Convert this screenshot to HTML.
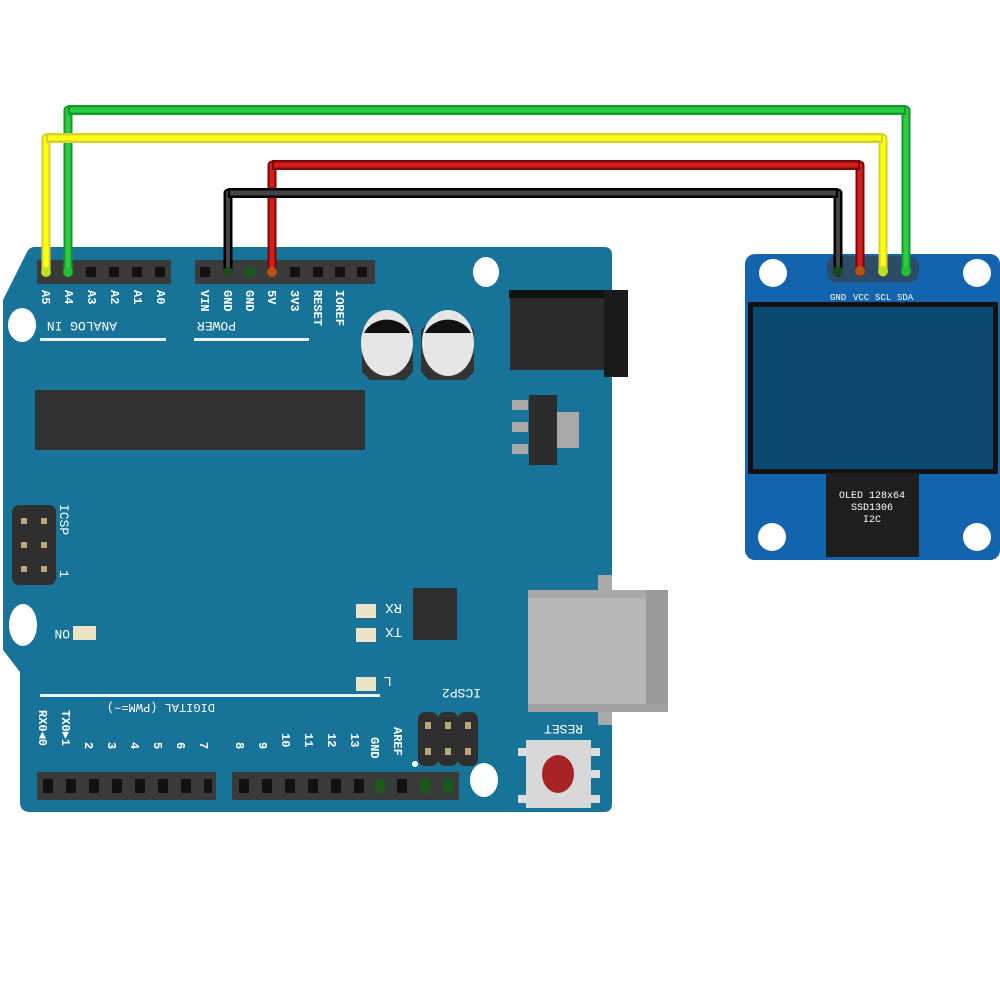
<!DOCTYPE html>
<html><head><meta charset="utf-8"><style>
html,body{margin:0;padding:0;background:#fff;}
svg{display:block;}
text{font-family:"Liberation Mono","DejaVu Sans Mono",monospace;fill:#fff;}
</style></head><body>
<svg width="1000" height="1000" viewBox="0 0 1000 1000" xmlns="http://www.w3.org/2000/svg">
<rect width="1000" height="1000" fill="#fff"/>
<path d="M34,247 L604,247 Q612,247 612,255 L612,804 Q612,812 604,812 L30,812 Q20,812 20,802 L20,672 L3,650 L3,300 L26,254 Q29,247 34,247 Z" fill="#187398"/>
<ellipse cx="486" cy="272" rx="13" ry="15" fill="#fff"/>
<ellipse cx="22" cy="325" rx="14" ry="17" fill="#fff"/>
<ellipse cx="23" cy="625" rx="14" ry="21" fill="#fff"/>
<ellipse cx="484" cy="780" rx="14" ry="17" fill="#fff"/>
<rect x="37" y="260" width="134" height="24" fill="#3a3a3a"/>
<g fill="#111">
<rect x="86" y="267" width="10" height="10"/><rect x="109" y="267" width="10" height="10"/>
<rect x="132" y="267" width="10" height="10"/><rect x="155" y="267" width="10" height="10"/>
</g>
<rect x="195" y="260" width="180" height="24" fill="#3a3a3a"/>
<g fill="#111">
<rect x="200" y="267" width="10" height="10"/><rect x="290" y="267" width="10" height="10"/>
<rect x="313" y="267" width="10" height="10"/><rect x="335" y="267" width="10" height="10"/><rect x="357" y="267" width="10" height="10"/>
</g>
<rect x="245" y="267" width="10" height="10" fill="#1c5a1c"/>
<g font-size="12" font-weight="bold">
<text transform="translate(42,290) rotate(90)">A5</text>
<text transform="translate(65,290) rotate(90)">A4</text>
<text transform="translate(88,290) rotate(90)">A3</text>
<text transform="translate(111,290) rotate(90)">A2</text>
<text transform="translate(134,290) rotate(90)">A1</text>
<text transform="translate(157,290) rotate(90)">A0</text>
<text transform="translate(201,290) rotate(90)">VIN</text>
<text transform="translate(224,290) rotate(90)">GND</text>
<text transform="translate(246,290) rotate(90)">GND</text>
<text transform="translate(268,290) rotate(90)">5V</text>
<text transform="translate(291,290) rotate(90)">3V3</text>
<text transform="translate(314,290) rotate(90)">RESET</text>
<text transform="translate(336,290) rotate(90)">IOREF</text>
</g>
<text font-size="13" transform="translate(117,322) rotate(180)">ANALOG IN</text>
<text font-size="13" transform="translate(236,322) rotate(180)">POWER</text>
<rect x="40" y="338" width="126" height="3" fill="#e8f4f8"/>
<rect x="194" y="338" width="115" height="3" fill="#e8f4f8"/>
<g>
<path d="M362,330 L370,322 L405,322 L413,330 L413,372 L405,380 L370,380 L362,372 Z" fill="#333"/>
<ellipse cx="387" cy="343" rx="26" ry="33" fill="#e6e6e6"/>
<path d="M364,333 A25,22 0 0 1 410,333 Z" fill="#111"/>
<path d="M421,330 L429,322 L466,322 L474,330 L474,372 L466,380 L429,380 L421,372 Z" fill="#333"/>
<ellipse cx="448" cy="343" rx="26" ry="33" fill="#e6e6e6"/>
<path d="M425,333 A25,22 0 0 1 471,333 Z" fill="#111"/>
</g>
<rect x="510" y="296" width="100" height="74" fill="#2b2b2b"/>
<rect x="509" y="290" width="100" height="8" fill="#111"/>
<rect x="604" y="290" width="24" height="87" fill="#1a1a1a"/>
<rect x="35" y="390" width="330" height="60" fill="#323232"/>
<rect x="512" y="400" width="16" height="10" fill="#a9a9a9"/>
<rect x="512" y="422" width="16" height="10" fill="#a9a9a9"/>
<rect x="512" y="444" width="16" height="10" fill="#a9a9a9"/>
<rect x="557" y="412" width="22" height="36" fill="#a9a9a9"/>
<rect x="529" y="395" width="28" height="70" fill="#2b2b2b"/>
<rect x="12" y="505" width="44" height="80" rx="7" fill="#2f2f2f"/>
<g fill="#b9a77a">
<rect x="21" y="518" width="6" height="6"/><rect x="41" y="518" width="6" height="6"/>
<rect x="21" y="542" width="6" height="6"/><rect x="41" y="542" width="6" height="6"/>
<rect x="21" y="566" width="6" height="6"/><rect x="41" y="566" width="6" height="6"/>
</g>
<text font-size="13" transform="translate(60,504) rotate(90)">ICSP</text>
<text font-size="13" transform="translate(60,570) rotate(90)">1</text>
<rect x="73" y="626" width="23" height="14" fill="#ece2c5"/>
<text font-size="13" transform="translate(70,630) rotate(180)">ON</text>
<rect x="356" y="604" width="20" height="14" fill="#ece2c5"/>
<rect x="356" y="628" width="20" height="14" fill="#ece2c5"/>
<rect x="356" y="677" width="20" height="14" fill="#ece2c5"/>
<text font-size="14" transform="translate(402,604) rotate(180)">RX</text>
<text font-size="14" transform="translate(402,628) rotate(180)">TX</text>
<text font-size="14" transform="translate(392,677) rotate(180)">L</text>
<rect x="413" y="588" width="44" height="52" fill="#2e2e2e"/>
<rect x="40" y="694" width="340" height="3" fill="#e8f4f8"/>
<rect x="598" y="575" width="14" height="18" fill="#a9a9a9"/>
<rect x="598" y="710" width="14" height="15" fill="#a9a9a9"/>
<rect x="528" y="590" width="118" height="122" fill="#b7b7b7"/>
<rect x="528" y="590" width="140" height="8" fill="#a9a9a9"/>
<rect x="646" y="590" width="22" height="122" fill="#9a9a9a"/>
<rect x="528" y="704" width="140" height="8" fill="#a0a0a0"/>
<text font-size="13" transform="translate(481,689) rotate(180)">ICSP2</text>
<rect x="418" y="712" width="20" height="54" rx="7" fill="#2f2f2f"/>
<rect x="438" y="712" width="20" height="54" rx="7" fill="#2f2f2f"/>
<rect x="458" y="712" width="20" height="54" rx="7" fill="#2f2f2f"/>
<g fill="#b9a77a">
<rect x="425" y="722" width="6" height="7"/><rect x="445" y="722" width="6" height="7"/><rect x="465" y="722" width="6" height="7"/>
<rect x="425" y="748" width="6" height="7"/><rect x="445" y="748" width="6" height="7"/><rect x="465" y="748" width="6" height="7"/>
</g>
<circle cx="415" cy="764" r="3" fill="#fff"/>
<text font-size="13" transform="translate(583,725) rotate(180)">RESET</text>
<rect x="518" y="748" width="10" height="8" fill="#ddd"/><rect x="518" y="795" width="10" height="8" fill="#ddd"/>
<rect x="590" y="748" width="10" height="8" fill="#ddd"/><rect x="590" y="770" width="10" height="8" fill="#ddd"/><rect x="590" y="795" width="10" height="8" fill="#ddd"/>
<rect x="526" y="740" width="65" height="68" fill="#d8d8d8"/>
<ellipse cx="558" cy="774" rx="16" ry="19" fill="#a82424"/>
<text font-size="12" transform="translate(215,704) rotate(180)">DIGITAL (PWM=~)</text>
<g font-size="12" font-weight="bold">
<text transform="translate(39,710) rotate(90)">RX0◄0</text>
<text transform="translate(62,710) rotate(90)">TX0►1</text>
<text transform="translate(85,742) rotate(90)">2</text>
<text transform="translate(108,742) rotate(90)">3</text>
<text transform="translate(131,742) rotate(90)">4</text>
<text transform="translate(154,742) rotate(90)">5</text>
<text transform="translate(177,742) rotate(90)">6</text>
<text transform="translate(200,742) rotate(90)">7</text>
<text transform="translate(236,742) rotate(90)">8</text>
<text transform="translate(259,742) rotate(90)">9</text>
<text transform="translate(282,733) rotate(90)">10</text>
<text transform="translate(305,733) rotate(90)">11</text>
<text transform="translate(328,733) rotate(90)">12</text>
<text transform="translate(351,733) rotate(90)">13</text>
<text transform="translate(371,737) rotate(90)">GND</text>
<text transform="translate(394,727) rotate(90)">AREF</text>
</g>
<rect x="37" y="772" width="179" height="28" fill="#3a3a3a"/>
<rect x="232" y="772" width="227" height="28" fill="#3a3a3a"/>
<g fill="#111">
<rect x="43" y="779" width="10" height="14"/><rect x="66" y="779" width="10" height="14"/><rect x="89" y="779" width="10" height="14"/>
<rect x="112" y="779" width="10" height="14"/><rect x="135" y="779" width="10" height="14"/><rect x="158" y="779" width="10" height="14"/>
<rect x="181" y="779" width="10" height="14"/><rect x="204" y="779" width="8" height="14"/>
<rect x="239" y="779" width="10" height="14"/><rect x="262" y="779" width="10" height="14"/><rect x="285" y="779" width="10" height="14"/>
<rect x="308" y="779" width="10" height="14"/><rect x="331" y="779" width="10" height="14"/><rect x="354" y="779" width="10" height="14"/>
<rect x="397" y="779" width="10" height="14"/>
</g>
<g fill="#1c5a1c">
<rect x="375" y="779" width="10" height="14"/><rect x="420" y="779" width="10" height="14"/><rect x="443" y="779" width="10" height="14"/>
</g>
<rect x="745" y="254" width="255" height="306" rx="10" fill="#1464ad"/>
<circle cx="773" cy="273" r="14" fill="#fff"/>
<circle cx="977" cy="273" r="14" fill="#fff"/>
<circle cx="772" cy="537" r="14" fill="#fff"/>
<circle cx="977" cy="537" r="14" fill="#fff"/>
<rect x="827" y="256" width="92" height="26" rx="10" fill="#3a3a3a" opacity="0.6"/>
<g font-size="9"><text x="830" y="300">GND</text><text x="853" y="300">VCC</text><text x="875" y="300">SCL</text><text x="897" y="300">SDA</text></g>
<rect x="748" y="302" width="250" height="172" fill="#111"/>
<rect x="753" y="307" width="240" height="162" fill="#0a4a70"/>
<rect x="826" y="473" width="93" height="84" fill="#1e1e1e"/>
<g font-size="10" text-anchor="middle"><text x="872" y="498">OLED 128x64</text><text x="872" y="510">SSD1306</text><text x="872" y="522">I2C</text></g>
<g fill="none" stroke-linejoin="round" stroke-linecap="round">
<path d="M68,272 L68,110 L906,110 L906,272" stroke="#149a2a" stroke-width="9"/>
<path d="M68,272 L68,110 L906,110 L906,272" stroke="#2ecc40" stroke-width="5"/>
<path d="M46,272 L46,138 L883,138 L883,272" stroke="#d6d030" stroke-width="9"/>
<path d="M46,272 L46,138 L883,138 L883,272" stroke="#ffff10" stroke-width="5"/>
<path d="M272,272 L272,165 L860,165 L860,272" stroke="#7a0808" stroke-width="9"/>
<path d="M272,272 L272,165 L860,165 L860,272" stroke="#d41c1c" stroke-width="5"/>
<path d="M228,272 L228,193 L838,193 L838,272" stroke="#000" stroke-width="9"/>
<path d="M228,272 L228,193 L838,193 L838,272" stroke="#444" stroke-width="4"/>
</g>
<g stroke-width="10">
<line x1="68" y1="110" x2="906" y2="110" stroke="#149a2a"/>
<line x1="70" y1="110" x2="904" y2="110" stroke="#2ecc40" stroke-width="5"/>
<line x1="46" y1="138" x2="883" y2="138" stroke="#d6d030"/>
<line x1="48" y1="138" x2="881" y2="138" stroke="#ffff10" stroke-width="5"/>
<line x1="272" y1="165" x2="860" y2="165" stroke="#7a0808"/>
<line x1="274" y1="165" x2="858" y2="165" stroke="#d41c1c" stroke-width="5"/>
<line x1="228" y1="193" x2="838" y2="193" stroke="#000"/>
<line x1="230" y1="193" x2="836" y2="193" stroke="#444" stroke-width="5"/>
</g>
<circle cx="46" cy="272" r="5" fill="#bde020"/>
<circle cx="68" cy="272" r="5" fill="#22c030"/>
<circle cx="228" cy="272" r="5" fill="#1a4a1a"/>
<circle cx="272" cy="272" r="5" fill="#b55010"/>
<circle cx="838" cy="271" r="5" fill="#1a4a1a"/>
<circle cx="860" cy="271" r="5" fill="#b55010"/>
<circle cx="883" cy="271" r="5" fill="#bde020"/>
<circle cx="906" cy="271" r="5" fill="#22c030"/>
</svg>
</body></html>
